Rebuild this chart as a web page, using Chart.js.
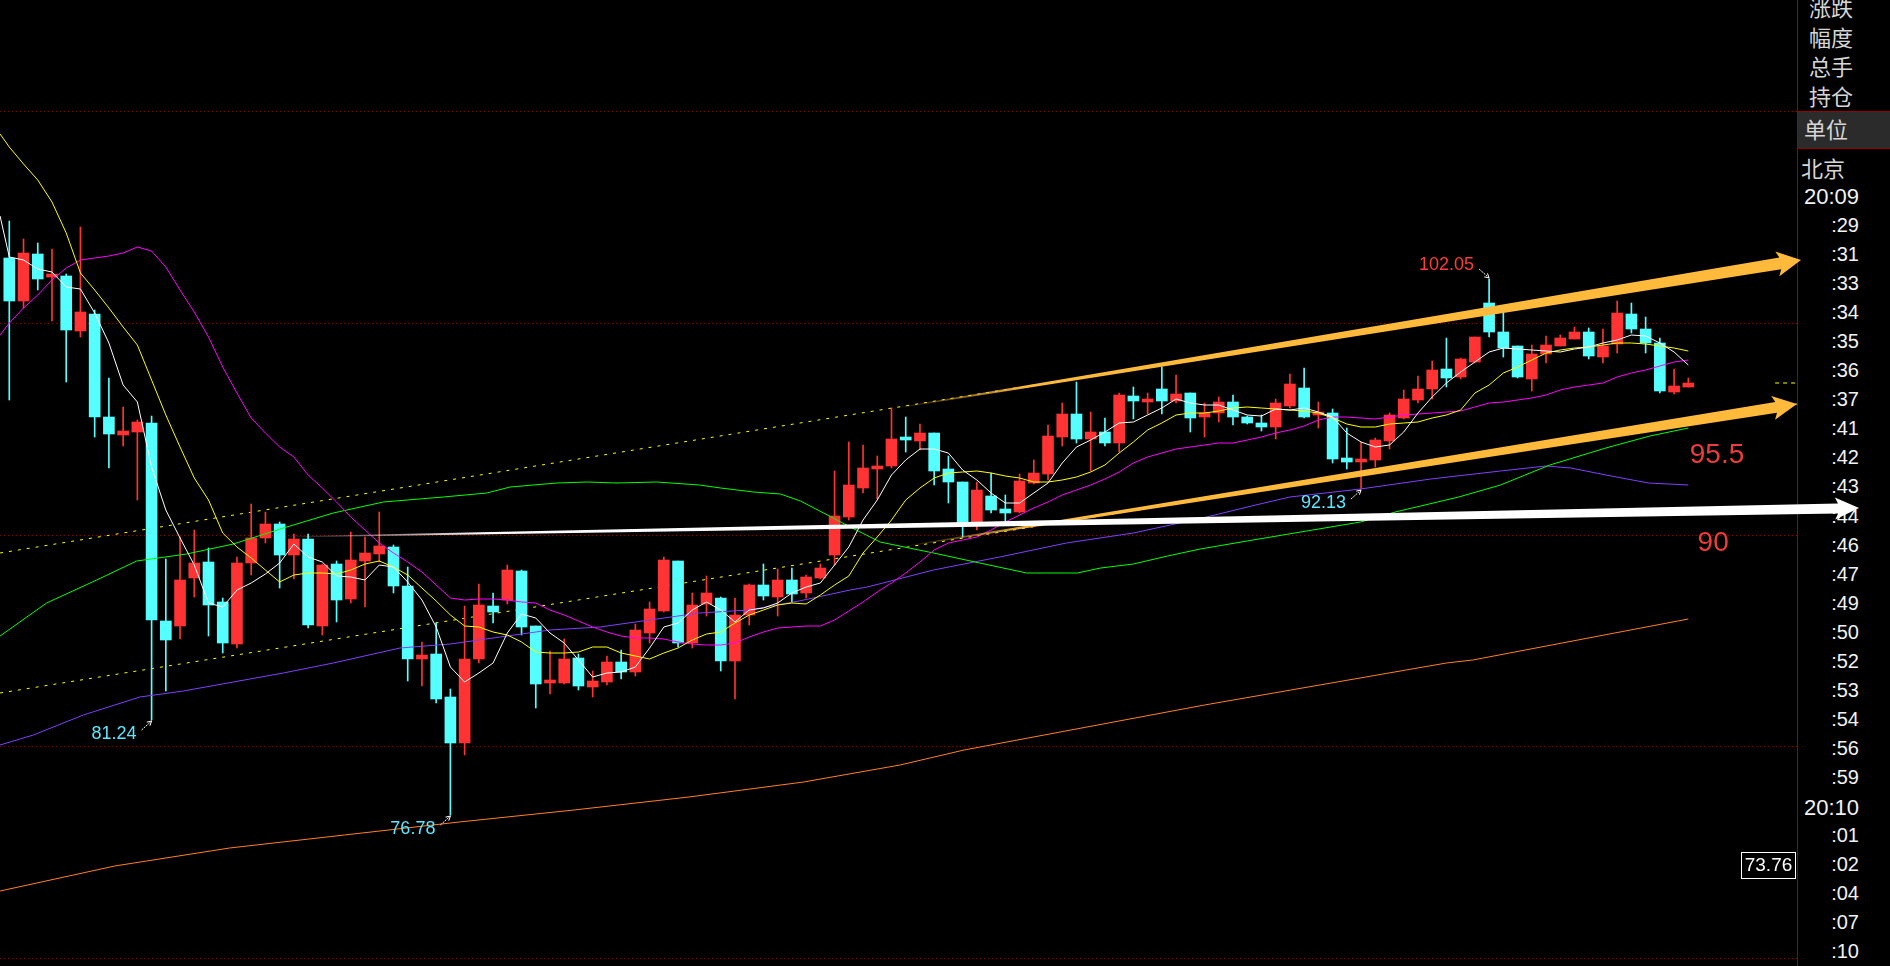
<!DOCTYPE html>
<html>
<head>
<meta charset="utf-8">
<script src="https://cdn.jsdelivr.net/npm/chart.js@4.4.1/dist/chart.umd.min.js"></script>
<style>
  html, body { margin: 0; padding: 0; background: #000; overflow: hidden; }
  #wrap { position: relative; width: 1890px; height: 966px; }
  #chart { position: absolute; left: 0; top: 0; z-index: 2; }
  .cell { position: absolute; white-space: nowrap; height: 30px; line-height: 30px; }
  .cjk { font: 22px "Noto Sans CJK SC", sans-serif; color: #d6d6d6; }
  .num { font: 20px "Liberation Sans", Arial, sans-serif; color: #f2f2f2; text-align: right; right: 31px; }
  .num.big { font-size: 22px; }
</style>
</head>
<body>
<div id="wrap">
  <canvas id="chart" width="1890" height="966"></canvas>
</div>
<script>
// candles (index 0 = leftmost)
const opens = [103.06,101.04,103.25,102.18,102.21,99.61,100.41,95.55,94.70,94.86,
  95.27,85.92,85.70,87.97,88.72,86.80,84.85,88.64,89.86,90.50,
  89.05,89.79,85.70,88.61,86.96,88.75,89.08,89.43,87.58,84.13,
  84.36,82.35,80.18,84.11,86.63,86.91,88.28,85.69,83.01,83.01,
  84.19,82.82,83.06,83.99,83.53,85.34,86.41,88.75,84.90,86.71,
  86.99,84.05,86.20,87.62,87.07,87.86,87.26,87.97,89.04,90.85,
  92.22,93.11,93.24,94.59,94.43,94.78,93.10,92.47,90.56,91.82,
  91.21,91.07,92.45,92.86,94.62,95.69,94.51,94.86,94.34,96.54,
  96.28,96.86,96.32,96.70,95.57,95.73,96.26,95.57,95.28,95.10,
  96.09,96.94,95.65,95.72,93.63,93.44,93.52,94.42,95.49,96.36,
  96.87,97.82,97.43,98.16,100.95,99.58,98.91,97.33,98.51,98.91,
  99.24,99.58,98.40,99.00,100.42,99.71,99.03,96.75,96.98];
const closes = [101.04,103.29,102.07,102.30,99.66,100.51,95.57,94.75,94.89,95.32,
  85.97,85.02,87.86,88.66,86.69,84.90,88.66,89.82,90.50,89.05,
  89.79,85.73,88.56,86.91,88.80,89.15,89.48,87.58,84.13,84.32,
  82.24,80.18,84.13,86.68,86.36,88.33,85.65,82.95,83.14,84.14,
  82.87,83.09,83.99,83.53,85.50,86.49,88.80,84.87,86.68,87.26,
  84.05,86.20,87.62,87.10,87.86,87.20,88.00,88.44,90.88,92.34,
  93.14,93.24,94.51,94.48,94.78,93.02,92.50,90.56,92.11,91.16,
  91.04,92.53,92.89,94.66,95.69,94.51,94.86,94.34,96.59,96.32,
  96.39,96.32,96.64,95.52,95.73,96.26,95.57,95.25,95.10,96.20,
  97.11,95.57,95.80,93.57,93.44,93.57,94.47,95.65,96.40,96.87,
  97.77,97.41,98.27,99.31,99.58,98.80,97.46,98.53,98.95,99.30,
  99.58,98.43,98.91,100.45,99.71,99.03,96.78,97.02,97.14];
const highs = [104.81,103.96,103.77,103.48,102.30,104.52,100.60,97.39,96.02,95.41,
  95.60,88.85,89.90,90.22,89.35,86.99,88.93,91.45,91.08,90.60,
  90.01,90.01,88.60,88.75,90.14,89.90,91.08,89.51,88.46,84.92,
  85.81,82.69,86.63,87.67,87.23,88.57,88.33,85.69,84.50,85.06,
  84.35,83.56,84.27,84.55,85.78,86.83,88.93,88.75,87.26,88.05,
  87.07,86.99,87.67,88.61,88.38,88.41,88.09,88.61,93.02,94.39,
  94.23,93.71,95.96,95.54,95.22,94.78,93.71,92.47,92.50,92.92,
  91.87,92.85,93.52,95.17,96.23,97.22,95.80,95.52,96.67,96.98,
  96.67,97.93,97.53,96.70,96.20,96.48,96.59,95.62,95.65,96.39,
  97.57,97.85,96.24,95.93,95.02,94.39,94.58,95.76,96.83,97.49,
  98.20,99.27,98.32,99.35,102.05,100.48,98.91,98.95,99.38,99.43,
  99.82,99.74,99.69,101.03,100.92,100.29,99.27,97.82,97.38];
const lows = [96.36,100.68,101.55,100.10,97.22,99.34,94.62,93.16,94.20,91.63,
  81.24,82.62,85.06,87.07,85.23,84.43,84.66,88.09,89.59,87.46,
  87.89,85.58,85.26,85.89,86.76,86.60,88.72,87.23,83.10,82.87,
  82.07,76.78,79.59,83.92,85.84,86.71,85.26,81.80,82.46,82.95,
  82.66,82.35,82.90,83.17,83.34,84.87,86.33,84.71,84.66,86.16,
  83.58,82.24,85.73,86.91,86.17,86.83,86.99,87.90,88.57,90.69,
  91.98,91.67,93.16,93.92,94.00,92.34,91.48,89.90,90.22,91.04,
  90.64,91.00,92.40,92.58,94.18,94.34,93.00,94.18,93.92,95.46,
  95.69,95.69,96.20,94.86,94.62,95.30,95.17,95.20,94.89,94.52,
  95.96,95.49,95.02,93.37,93.08,92.13,93.18,94.04,95.45,96.23,
  96.39,96.98,97.35,98.10,99.33,98.40,97.38,96.79,98.09,98.91,
  99.24,98.29,98.12,98.59,99.53,98.59,96.70,96.64,96.98];

// short moving averages: first value sits on the left edge, then one per candle
const edgeX = -0.65;
const maWhite = [105.04,103.09,102.97,102.52,102.41,101.71,101.60,100.45,99.03,97.06,96.28,
  93.20,91.16,89.82,88.56,86.79,86.60,87.39,87.70,88.12,88.64,
  89.56,88.96,88.72,88.06,87.98,87.86,88.57,88.45,87.74,86.90,
  85.65,83.77,83.06,83.45,83.92,85.34,86.24,86.05,85.34,84.87,
  84.08,83.26,83.48,83.53,83.77,84.63,85.65,85.81,86.44,86.80,
  86.44,85.89,86.44,86.55,86.76,87.23,87.52,87.72,88.55,89.40,
  90.69,91.63,92.81,93.52,94.03,94.03,93.87,93.05,92.58,91.95,
  91.48,91.48,91.95,92.42,93.37,94.12,94.47,94.86,95.25,95.33,
  95.65,95.96,96.39,96.23,96.12,96.12,95.88,95.65,95.60,95.92,
  95.88,95.96,95.81,95.57,94.78,94.39,94.15,94.23,94.86,95.73,
  96.51,97.14,97.69,98.16,98.64,98.80,98.75,98.72,98.68,98.64,
  98.75,98.84,99.03,99.20,99.40,99.38,99.05,98.60,98.00];
const maYellow = [108.90,108.30,107.50,106.74,105.72,104.22,102.34,101.55,100.68,99.82,98.95,
  97.30,95.65,94.15,92.66,91.63,90.06,89.43,88.88,88.33,87.78,
  88.09,88.17,88.20,88.14,88.33,88.61,88.77,88.49,88.09,87.50,
  86.84,86.20,85.69,85.65,85.42,85.26,84.95,84.47,84.43,84.43,
  84.47,84.71,84.71,84.39,84.27,84.11,84.39,84.63,85.02,85.31,
  85.42,85.81,86.20,86.44,86.68,86.76,86.72,87.15,87.62,88.03,
  89.12,89.90,90.69,91.63,92.19,92.66,92.89,92.97,93.02,92.92,
  92.77,92.66,92.50,92.50,92.58,92.74,92.97,93.29,93.84,94.39,
  94.94,95.25,95.65,95.76,95.76,95.85,95.96,96.04,95.96,95.93,
  95.88,95.85,95.72,95.49,95.22,95.07,95.10,95.21,95.25,95.33,
  95.49,95.65,95.88,96.67,97.07,97.61,97.93,98.24,98.56,98.72,
  98.80,98.87,98.95,99.03,99.03,99.00,98.91,98.80,98.68];
const maMagenta = [99.42,99.97,100.68,101.31,102.02,102.57,102.97,103.04,103.15,103.31,103.59,
  103.39,102.65,101.55,100.52,99.34,97.93,96.67,95.49,94.78,94.15,
  93.68,92.81,92.18,91.55,90.85,90.22,89.59,89.12,88.72,88.21,
  87.62,86.99,86.91,86.94,86.94,86.91,86.83,86.76,86.44,86.20,
  85.94,85.65,85.42,85.21,85.10,85.10,85.06,84.95,84.84,84.79,
  84.79,84.87,85.18,85.42,85.58,85.62,85.67,85.69,85.97,86.41,
  86.83,87.30,87.73,88.17,88.72,89.27,89.59,89.74,89.90,90.22,
  90.61,90.93,91.24,91.55,91.87,92.11,92.34,92.61,92.97,93.37,
  93.68,93.87,94.03,94.15,94.23,94.31,94.34,94.45,94.62,94.78,
  94.94,95.13,95.41,95.57,95.57,95.49,95.44,95.54,95.65,95.69,
  95.76,95.80,95.85,96.04,96.20,96.28,96.36,96.43,96.59,96.83,
  96.98,97.06,97.17,97.46,97.61,97.77,97.96,98.17,98.24];

// slow averages, read at sample positions along the line
const greenX = [-0.65,2.62,6.14,8.95,12.46,15.74,19.26,22.77,26.28,30.5,33.55,35.2,38.46,40.6,42.7,45.5,48.5,50,52.3,54.2,55.6,57.5,59.1,61.2,64.95,68.2,71.5,75.05,76.7,79.0,81.4,83.7,87.4,94.96,97.4,101.86,104.8,108.27,112.2,115.3,118];
const greenV = [85.21,86.76,87.86,88.75,89.08,89.56,90.30,91.00,91.56,91.76,91.98,92.23,92.42,92.47,92.42,92.47,92.34,92.19,92.03,91.90,91.60,90.93,90.38,89.67,89.12,88.64,88.17,88.17,88.41,88.61,88.99,89.30,89.75,90.61,91.08,91.76,92.34,93.29,94.07,94.65,95.02];
const purpleX = [-0.65,1.69,5.2,9.18,12.23,15.74,19.26,22.77,27.46,31.0,34.5,38.0,41.5,45.0,48.5,52.0,55.5,59.1,60.3,64.95,69.6,74.3,79.0,83.86,87.3,90.0,94.96,99.9,104.8,108.0,109.76,112.2,115.2,118];
const purpleV = [80.07,80.54,81.48,82.32,82.63,83.06,83.45,83.92,84.65,84.82,85.18,85.50,85.65,85.97,86.31,86.44,86.85,87.38,87.54,88.33,88.96,89.59,90.06,90.80,91.35,91.79,92.16,92.61,93.02,93.24,93.13,92.81,92.45,92.34];
const orangeX = [-0.65,7.41,15.48,23.55,31.62,39.69,47.76,55.83,62.6,67.1,84.0,101.0,102.85,118];
const orangeV = [73.17,74.37,75.19,75.82,76.45,77.00,77.63,78.33,79.12,79.84,81.95,83.95,84.08,86.00];

// dotted channel (start index, price, end index, price)
const channelUpper = [-0.65, 89.12, 125.64, 102.93];
const channelLower = [-0.65, 82.54, 125.64, 96.15];

// hand-drawn arrows: from index, price -> to index, price
const arrowEnds = [
  [61.9, 95.95, 125.92, 102.965],
  [62.6, 89.43, 125.63, 96.15],
  [19.0, 89.89, 130.0, 91.25]
];

// marked highs / lows
const extremes = [
  { i: 104, v: 102.05, up: true },
  { i: 10, v: 81.24, up: false },
  { i: 31, v: 76.78, up: false },
  { i: 95, v: 92.13, up: false }
];
const priceNotes = [
  { text: '95.5', i: 118.1, v: 93.76 },
  { text: '90', i: 118.65, v: 89.60 }
];
const boxNote = { text: '73.76', v: 74.41 };
const gridLevels = [70, 80, 90, 100, 110];

// right side panel
const panelHeads = ['涨跌', '幅度', '总手', '持仓'];
const tickTimes = ['20:09', ':29', ':31', ':33', ':34', ':35', ':36', ':37', ':41', ':42', ':43', ':44', ':46',
  ':47', ':49', ':50', ':52', ':53', ':54', ':56', ':59', '20:10', ':01', ':02', ':04', ':07', ':10'];

const wrap = document.getElementById('wrap');
function cell(text, cls, left, cy) {
  const d = document.createElement('div');
  d.className = 'cell ' + cls;
  d.textContent = text;
  if (left !== null) d.style.left = left + 'px';
  d.style.top = (cy - 15) + 'px';
  wrap.appendChild(d);
  return d;
}
const vline = document.createElement('div');
vline.style.cssText = 'position:absolute;left:1797px;top:0;width:1px;height:966px;background:#9b0000;';
wrap.appendChild(vline);
const unitBox = document.createElement('div');
unitBox.style.cssText = 'position:absolute;left:1798px;top:111px;width:92px;height:36px;background:#2b2b2b;border-top:1px solid #9b0000;border-bottom:1px solid #9b0000;';
wrap.appendChild(unitBox);
panelHeads.forEach((t, k) => cell(t, 'cjk', 1809, 5 + k * 29.6));
cell('单位', 'cjk', 1804, 127);
cell('北京', 'cjk', 1801, 166);
tickTimes.forEach((t, k) => {
  const cy = k === 0 ? 199 : 229 + (k - 1) * 29.05;
  cell(t, t.length > 3 ? 'num big' : 'num', null, cy);
});

// chart
const RED = '#ff3333', CYAN = '#55ffff';
const idx = opens.map((_, i) => i);
const candleColors = idx.map(i => closes[i] >= opens[i] ? RED : CYAN);
const maX = [edgeX].concat(idx);
const pts = (xs, vs) => vs.map((v, k) => ({ x: xs[k], y: v }));

function lineSet(data, color, extra) {
  return Object.assign({
    type: 'line', data: data, borderColor: color, borderWidth: 1,
    pointRadius: 0, tension: 0, fill: false, order: 1
  }, extra || {});
}

const overlay = {
  id: 'overlay',
  afterDatasetsDraw(chart) {
    const { ctx, scales: { x, y }, chartArea } = chart;
    ctx.save();

    // extremes labels with small arrows
    ctx.font = '18px "Liberation Sans", Arial, sans-serif';
    ctx.textAlign = 'right';
    ctx.textBaseline = 'middle';
    extremes.forEach(e => {
      const px = x.getPixelForValue(e.i), py = y.getPixelForValue(e.v);
      const s = e.up ? -1 : 1;
      ctx.fillStyle = e.up ? '#ff3b3b' : '#5ce6ff';
      ctx.fillText(e.v.toFixed(2), px - 15, py + s * 14);
      const ax = px - 10, ay = py + s * 10, tx = px, ty = py + s * 1;
      ctx.strokeStyle = '#ffffff';
      ctx.lineWidth = 1;
      ctx.setLineDash([2, 1]);
      ctx.beginPath(); ctx.moveTo(ax, ay); ctx.lineTo(tx, ty); ctx.stroke();
      ctx.setLineDash([]);
      const ang = Math.atan2(ty - ay, tx - ax);
      ctx.beginPath();
      ctx.moveTo(tx - 5 * Math.cos(ang - 0.5), ty - 5 * Math.sin(ang - 0.5));
      ctx.lineTo(tx, ty);
      ctx.lineTo(tx - 5 * Math.cos(ang + 0.5), ty - 5 * Math.sin(ang + 0.5));
      ctx.stroke();
    });

    // red price notes
    ctx.font = '28px "Liberation Sans", Arial, sans-serif';
    ctx.textAlign = 'left';
    ctx.fillStyle = '#ee3b3b';
    priceNotes.forEach(n => ctx.fillText(n.text, x.getPixelForValue(n.i), y.getPixelForValue(n.v)));

    // boxed value at the right edge
    const by = y.getPixelForValue(boxNote.v);
    ctx.strokeStyle = '#ffffff';
    ctx.lineWidth = 1;
    ctx.strokeRect(chartArea.right - 55.5, Math.round(by - 13) + 0.5, 54, 26);
    ctx.font = '19px "Liberation Sans", Arial, sans-serif';
    ctx.textAlign = 'center';
    ctx.fillStyle = '#ffffff';
    ctx.fillText(boxNote.text, chartArea.right - 28.5, by + 1);

    // thick hand-drawn arrows
    const styles = [
      { w0: 1, w1: 12, head: 21, headW: 25, fade: 0.15, rgb: '255,186,60' },
      { w0: 1, w1: 11, head: 21, headW: 24, fade: 0.15, rgb: '255,186,60' },
      { w0: 1, w1: 10, head: 21, headW: 22, fade: 0.13, rgb: '255,255,255' }
    ];
    arrowEnds.forEach((a, k) => {
      const st = styles[k];
      const x0 = x.getPixelForValue(a[0]), y0 = y.getPixelForValue(a[1]);
      const x1 = x.getPixelForValue(a[2]), y1 = y.getPixelForValue(a[3]);
      const L = Math.hypot(x1 - x0, y1 - y0);
      const ux = (x1 - x0) / L, uy = (y1 - y0) / L, nx = -uy, ny = ux;
      const bx = x1 - ux * st.head, byy = y1 - uy * st.head;
      ctx.beginPath();
      ctx.moveTo(x0 + nx * st.w0 / 2, y0 + ny * st.w0 / 2);
      ctx.lineTo(bx + nx * st.w1 / 2, byy + ny * st.w1 / 2);
      ctx.lineTo(bx - ux * 3 + nx * st.headW / 2, byy - uy * 3 + ny * st.headW / 2);
      ctx.lineTo(x1, y1);
      ctx.lineTo(bx - ux * 3 - nx * st.headW / 2, byy - uy * 3 - ny * st.headW / 2);
      ctx.lineTo(bx - nx * st.w1 / 2, byy - ny * st.w1 / 2);
      ctx.lineTo(x0 - nx * st.w0 / 2, y0 - ny * st.w0 / 2);
      ctx.closePath();
      const g = ctx.createLinearGradient(x0, y0, x1, y1);
      g.addColorStop(0, 'rgba(' + st.rgb + ',0)');
      g.addColorStop(st.fade, 'rgba(' + st.rgb + ',1)');
      g.addColorStop(1, 'rgba(' + st.rgb + ',1)');
      ctx.fillStyle = g;
      ctx.fill();
    });
    ctx.restore();
  }
};

new Chart(document.getElementById('chart'), {
  type: 'bar',
  data: {
    datasets: [
      lineSet(pts(maX, maWhite), '#ffffff'),
      lineSet(pts(maX, maYellow), '#ffff00'),
      lineSet(pts(maX, maMagenta), '#ff00ff'),
      lineSet(pts(greenX, greenV), '#00ff00'),
      lineSet(pts(purpleX, purpleV), '#7f3fff'),
      lineSet(pts(orangeX, orangeV), '#ff7f27'),
      lineSet([{ x: channelUpper[0], y: channelUpper[1] }, { x: channelUpper[2], y: channelUpper[3] }], '#ffff00', { borderDash: [3, 6], order: 4 }),
      lineSet([{ x: channelLower[0], y: channelLower[1] }, { x: channelLower[2], y: channelLower[3] }], '#ffff00', { borderDash: [3, 6], order: 4 }),
      lineSet([{ x: 124.1, y: closes[closes.length - 1] }, { x: 125.64, y: closes[closes.length - 1] }], '#ffff00', { borderDash: [4, 4] }),
      {
        type: 'bar', order: 2, grouped: false, barThickness: 11, minBarLength: 2,
        data: idx.map(i => ({ x: i, y: [opens[i], closes[i]] })),
        backgroundColor: candleColors
      },
      {
        type: 'bar', order: 3, grouped: false, barThickness: 1,
        data: idx.map(i => ({ x: i, y: [lows[i], highs[i]] })),
        backgroundColor: candleColors
      }
    ]
  },
  options: {
    responsive: false,
    devicePixelRatio: 1,
    animation: false,
    events: [],
    layout: { padding: { left: 0, right: 93, top: 0, bottom: 0 } },
    plugins: { legend: { display: false }, tooltip: { enabled: false } },
    scales: {
      x: { type: 'linear', min: -0.6536, max: 125.638, offset: false, display: false },
      y: {
        type: 'linear', min: 69.63, max: 115.24, alignToPixels: true,
        afterBuildTicks: s => { s.ticks = gridLevels.map(v => ({ value: v })); },
        afterFit: s => { s.width = 0; },
        ticks: { display: false },
        grid: { color: '#8a0000', lineWidth: 1, drawTicks: false, borderDash: [1, 3] },
        border: { display: false, dash: [1, 3] }
      }
    }
  },
  plugins: [overlay]
});
</script>
</body>
</html>
